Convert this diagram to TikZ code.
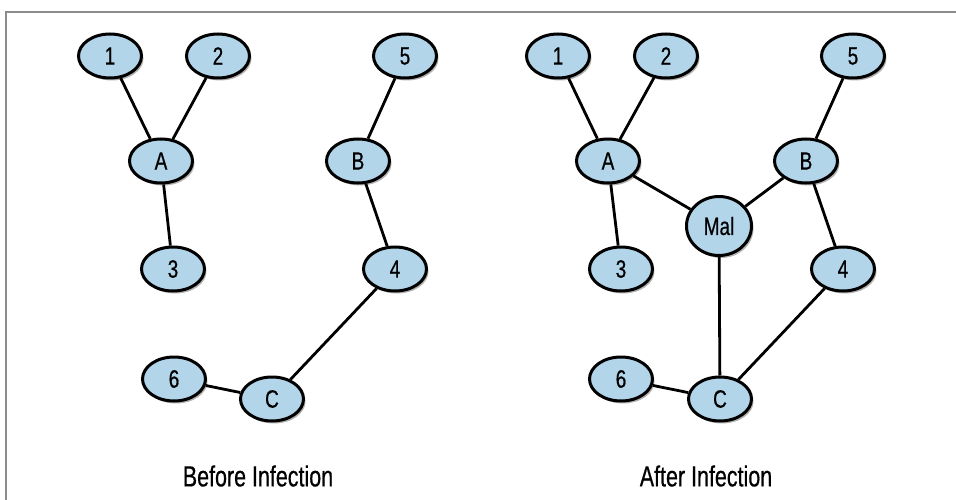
\documentclass[tikz,border=0pt]{standalone}
\usepackage{fontspec}
\setmainfont{Liberation Sans}[FakeStretch=0.76,FakeBold=0.6]
\newfontfamily\capfont{Liberation Sans}[FakeStretch=0.74,FakeBold=0.5]
\usetikzlibrary{shapes.geometric,shadows}
\definecolor{nodeblue}{RGB}{179,213,234}
\definecolor{framegray}{RGB}{140,140,140}
\tikzset{
  vert/.style={ellipse, draw=black, line width=3pt, fill=nodeblue, inner sep=0pt,
    minimum width=63pt, minimum height=44pt,
    font=\fontsize{25}{29}\selectfont,
    drop shadow={shadow xshift=2pt, shadow yshift=-2.5pt, opacity=0.3, fill=black}},
  malv/.style={vert, minimum width=65pt, minimum height=59pt},
  edge/.style={line width=2.8pt, draw=black},
  caption/.style={font=\capfont\fontsize{29}{33}\selectfont}
}
\begin{document}
\begin{tikzpicture}[x=1pt,y=-1pt]
\useasboundingbox (0,0) rectangle (956,500);
\fill[white] (0,0) rectangle (956,500);
\draw[framegray, line width=2pt] (6,500) -- (6,12) -- (956,12);
% Before
\node[vert] (l1) at (110,56) {1};
\node[vert] (l2) at (218,56) {2};
\node[vert] (lA) at (161,161) {A};
\node[vert] (l3) at (173,269) {3};
\node[vert] (l5) at (405,56) {5};
\node[vert] (lB) at (358,161) {B};
\node[vert] (l4) at (395,269) {4};
\node[vert] (l6) at (174,379) {6};
\node[vert] (lC) at (272,399) {C};
\draw[edge] (l1) -- (lA);
\draw[edge] (l2) -- (lA);
\draw[edge] (lA) -- (l3);
\draw[edge] (l5) -- (lB);
\draw[edge] (lB) -- (l4);
\draw[edge] (l4) -- (lC);
\draw[edge] (l6) -- (lC);
% After
\node[vert] (r1) at (558,56) {1};
\node[vert] (r2) at (666,56) {2};
\node[vert] (rA) at (608,161) {A};
\node[vert] (r3) at (621,269) {3};
\node[malv] (rM) at (719,226) {Mal};
\node[vert] (r5) at (853,56) {5};
\node[vert] (rB) at (806,161) {B};
\node[vert] (r4) at (843,269) {4};
\node[vert] (r6) at (621,379) {6};
\node[vert] (rC) at (720,399) {C};
\draw[edge] (r1) -- (rA);
\draw[edge] (r2) -- (rA);
\draw[edge] (rA) -- (r3);
\draw[edge] (rA) -- (rM);
\draw[edge] (rM) -- (rB);
\draw[edge] (rM) -- (rC);
\draw[edge] (r5) -- (rB);
\draw[edge] (rB) -- (r4);
\draw[edge] (r4) -- (rC);
\draw[edge] (r6) -- (rC);
% captions
\node[caption] (capL) at (258,476) {Before Infection};
\node[caption] (capR) at (706,476) {After Infection};
\end{tikzpicture}
\end{document}
